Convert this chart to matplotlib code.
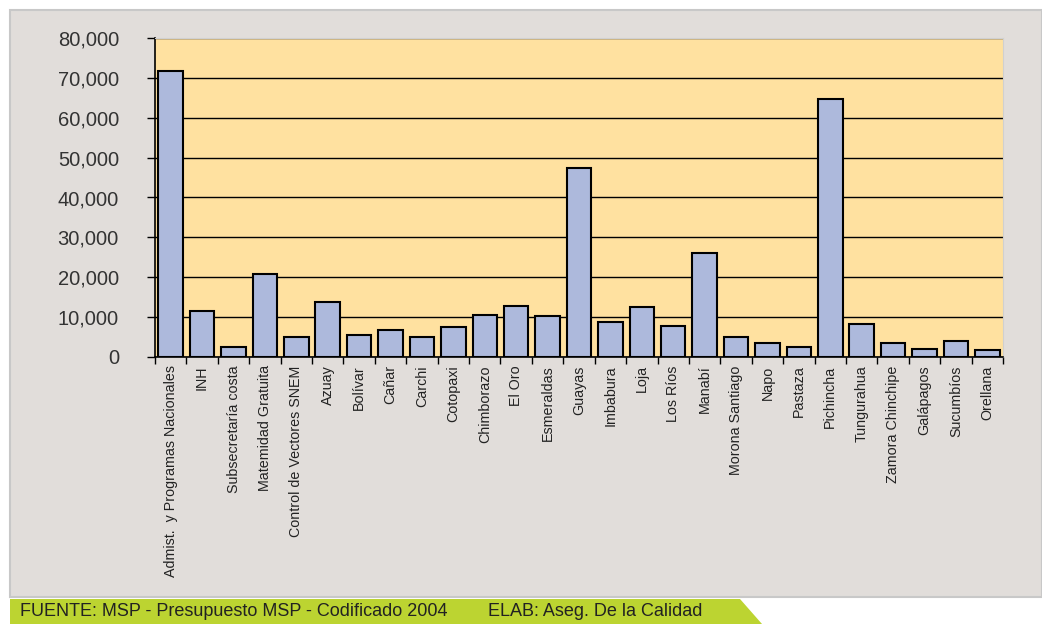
import numpy as np
import matplotlib.pyplot as plt
from matplotlib.patches import Rectangle, Polygon
from matplotlib.ticker import FuncFormatter

# Presupuesto MSP por unidad / provincia
categorias = ["Admist.  y Programas Nacionales", "INH", "Subsecretaría costa",
              "Matemidad Gratuita", "Control de Vectores SNEM", "Azuay", "Bolívar",
              "Cañar", "Carchi", "Cotopaxi", "Chimborazo", "El Oro", "Esmeraldas",
              "Guayas", "Imbabura", "Loja", "Los Ríos", "Manabí", "Morona Santiago",
              "Napo", "Pastaza", "Pichincha", "Tungurahua", "Zamora Chinchipe",
              "Galápagos", "Sucumbíos", "Orellana"]
valores = [71800, 11500, 2500, 20900, 4900, 13800, 5600, 6800, 4900, 7500,
           10600, 12800, 10300, 47300, 8900, 12600, 7800, 26000, 4900, 3500,
           2600, 64600, 8400, 3500, 2100, 4100, 1800]

fuente = "FUENTE: MSP - Presupuesto MSP - Codificado 2004"
elab = "ELAB: Aseg. De la Calidad"

W, H = 1042, 624
fig = plt.figure(figsize=(W / 100, H / 100), dpi=100)
fig.patch.set_facecolor("white")

# panel gris de fondo
fig.patches.append(Rectangle((10 / W, 1 - 597 / H), 1 - 10 / W, (597 - 10) / H,
                             transform=fig.transFigure, facecolor="#E1DDDA",
                             edgecolor="#C8C8C8", linewidth=1.5, zorder=-5))
# banda verde del pie
fig.patches.append(Polygon([(10 / W, 0), (10 / W, 1 - 599 / H), (740 / W, 1 - 599 / H),
                            (762 / W, 0)], closed=True, transform=fig.transFigure,
                           facecolor="#BCD431", edgecolor="none", zorder=-5))
fig.text(20 / W, 1 - 612 / H, fuente, fontsize=13, va="center", ha="left",
         family="Liberation Sans", color="#222222")
fig.text(488 / W, 1 - 612 / H, elab, fontsize=13, va="center", ha="left",
         family="Liberation Sans", color="#222222")

ax = fig.add_axes([155 / W, 1 - 357 / H, (1003 - 155) / W, (357 - 38) / H])
ax.set_zorder(1)
ax.set_facecolor("#FFE1A0")

x = np.arange(len(categorias))
ax.bar(x, valores, width=0.78, color="#ADB9DC", edgecolor="black", linewidth=1.5, zorder=3)

ax.set_xlim(-0.5, len(categorias) - 0.5)
ax.set_ylim(0, 80000)
ax.set_yticks(np.arange(0, 80001, 10000))
ax.yaxis.set_major_formatter(FuncFormatter(lambda v, p: f"{int(v):,}"))
ax.grid(axis="y", color="black", linewidth=1, zorder=1)

ax.set_xticks(x)
ax.set_xticklabels(categorias, rotation=90, fontsize=10.3, family="Liberation Sans",
                   color="#222222")
ax.set_xticks(np.arange(-0.5, len(categorias)), minor=True)
ax.tick_params(axis="x", which="major", length=0, pad=6)
ax.tick_params(axis="x", which="minor", length=5, width=1, color="black")
ax.tick_params(axis="y", length=6, width=1, labelsize=14.5, color="black",
               labelcolor="#333333", pad=20)
for lab in ax.get_yticklabels():
    lab.set_family("Liberation Sans")

ax.spines["left"].set_linewidth(1.2)
ax.spines["bottom"].set_linewidth(1.2)
ax.spines["top"].set_color("#D0D0D0")
ax.spines["right"].set_color("#D0D0D0")

fig.savefig("out.png", dpi=100, facecolor=fig.get_facecolor())
